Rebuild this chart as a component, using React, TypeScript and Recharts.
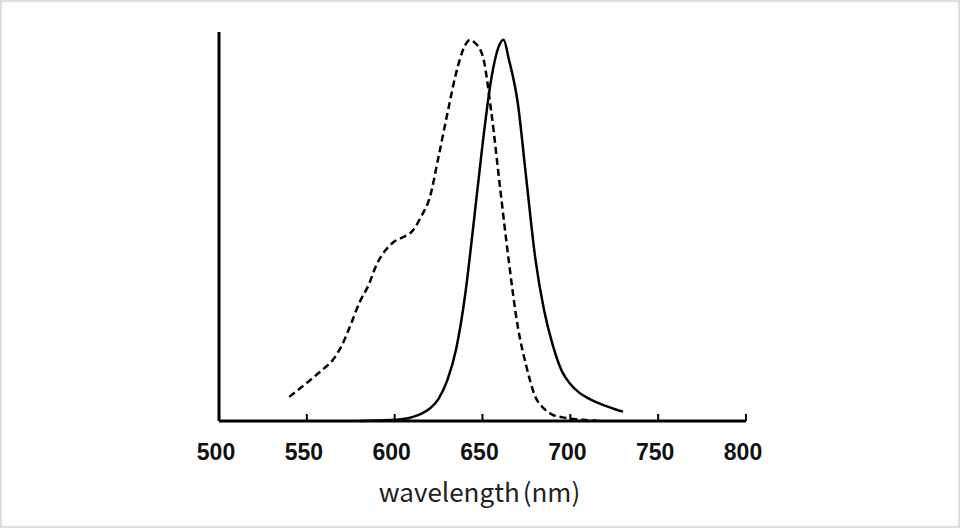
import React from "react";
import { LineChart, Line, XAxis, YAxis, Label } from "recharts";

const xTicks = [500, 550, 600, 650, 700, 750, 800];

// excitation spectrum (dashed)
const excitationNm = [
  540, 545, 550, 555, 560, 565, 570, 575, 580, 585, 590, 595, 600, 605, 610,
  615, 620, 625, 630, 635, 640, 643, 645, 650, 655, 660, 665, 670, 675, 680,
  685, 690, 695, 700, 705, 710, 715,
];
const excitationValue = [
  6.2, 8.0, 9.8, 11.7, 13.6, 15.8, 19.5, 24.8, 30.5, 34.8, 40.5, 44.0, 46.2,
  47.3, 48.8, 52.5, 57.5, 68, 79, 89.5, 96.5, 98, 97.5, 94, 79.5, 60, 41, 24.5,
  14, 6.3, 3.2, 1.6, 1.0, 0.6, 0.4, 0.2, 0.1,
];

// emission spectrum (solid)
const emissionNm = [
  580, 590, 600, 605, 610, 615, 620, 625, 630, 635, 640, 645, 650, 655, 659,
  662, 665, 670, 675, 680, 685, 690, 695, 700, 705, 710, 715, 720, 725, 730,
];
const emissionValue = [
  0, 0.1, 0.3, 0.5, 1.0, 1.8, 3.2, 5.7, 10.5, 18.5, 32, 51, 71, 88, 96, 98,
  93, 82, 62, 42, 28.6, 19.5, 13, 9.5, 7.3, 5.9, 4.8, 3.9, 3.1, 2.4,
];

const allNm = Array.from(new Set([...excitationNm, ...emissionNm])).sort(
  (a, b) => a - b
);
const data = allNm.map((nm) => {
  const ei = excitationNm.indexOf(nm);
  const mi = emissionNm.indexOf(nm);
  return {
    nm,
    ex: ei >= 0 ? excitationValue[ei] : null,
    em: mi >= 0 ? emissionValue[mi] : null,
  };
});

const AxisTick: React.FC<any> = ({ x, y, payload }) => (
  <g>
    <line x1={x} y1={y} x2={x} y2={y - 7} stroke="#000" strokeWidth={2} />
    <text
      x={x - 3}
      y={y + 39}
      textAnchor="middle"
      fill="#111"
      fontFamily="'Liberation Sans', Arial, sans-serif"
      fontWeight="bold"
      fontSize={23}
    >
      {payload.value}
    </text>
  </g>
);

const AxisTitle: React.FC<any> = ({ viewBox }) => (
  <text
    x={viewBox.x + viewBox.width / 2 - 3}
    y={viewBox.y + 81}
    textAnchor="middle"
    fill="#222"
    fontFamily="'Noto Sans CJK JP', 'Noto Sans', sans-serif"
    fontSize={26}
  >
    wavelength<tspan dx={3}>(nm)</tspan>
  </text>
);

export default function App() {
  return (
    <div
      style={{
        position: "absolute",
        left: 0,
        top: 0,
        width: 960,
        height: 528,
        boxSizing: "border-box",
        border: "2px solid #dcdcdc",
        background: "#fff",
      }}
    >
      <LineChart
        width={956}
        height={524}
        data={data}
        margin={{ top: 30, left: 216, right: 212, bottom: 45 }}
      >
        <XAxis
          dataKey="nm"
          type="number"
          domain={[500, 800]}
          ticks={xTicks}
          allowDataOverflow
          height={60}
          tickSize={0}
          tickMargin={0}
          tickLine={false}
          axisLine={{ stroke: "#000", strokeWidth: 3 }}
          tick={<AxisTick />}
        >
          <Label content={<AxisTitle />} />
        </XAxis>
        <YAxis
          width={1}
          domain={[0, 100]}
          tick={false}
          tickLine={false}
          axisLine={{ stroke: "#000", strokeWidth: 3 }}
        />
        <Line
          dataKey="ex"
          type="monotone"
          stroke="#000"
          strokeWidth={2.5}
          strokeDasharray="7 4"
          dot={false}
          activeDot={false}
          connectNulls
          isAnimationActive={false}
        />
        <Line
          dataKey="em"
          type="monotone"
          stroke="#000"
          strokeWidth={2.5}
          dot={false}
          activeDot={false}
          connectNulls
          isAnimationActive={false}
        />
      </LineChart>
    </div>
  );
}
